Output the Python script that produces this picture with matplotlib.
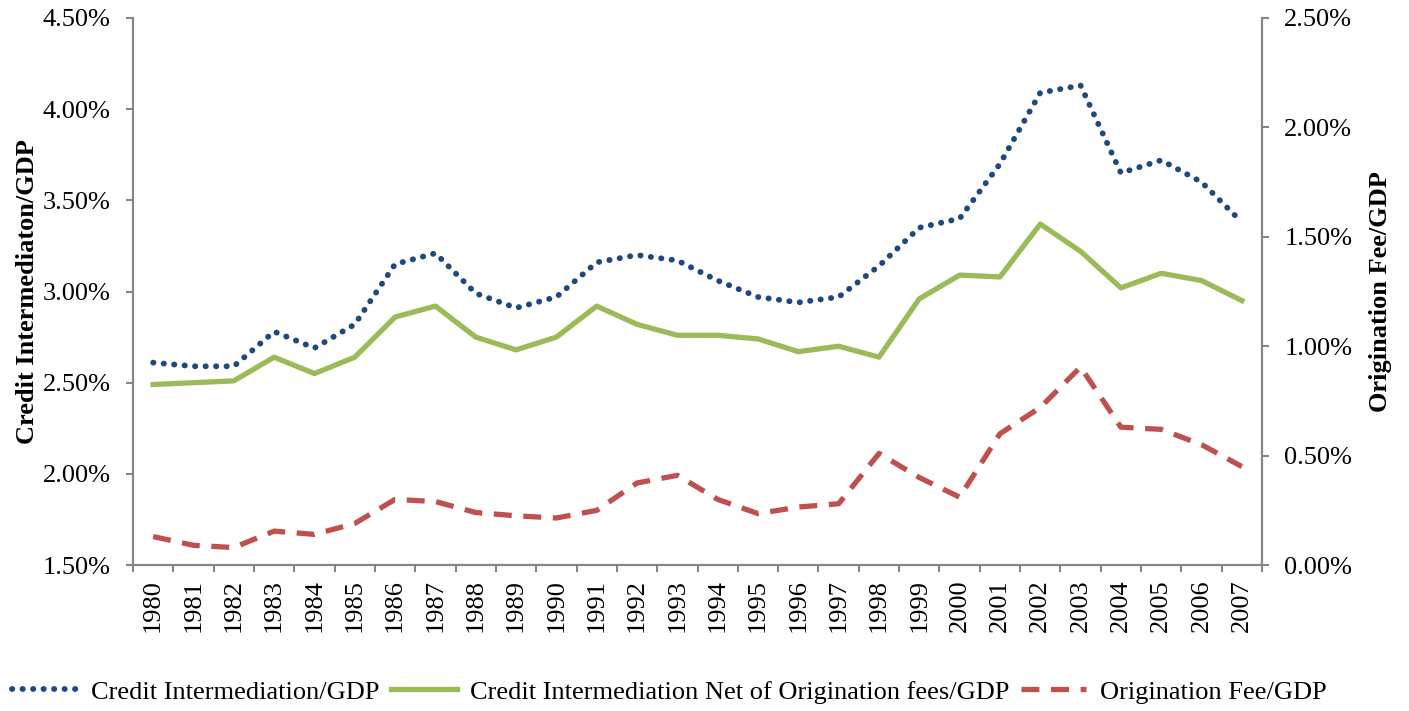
import matplotlib.pyplot as plt
from matplotlib.ticker import FuncFormatter, FixedLocator

# --- DATA ---
years = [str(y) for y in range(1980, 2008)]

credit_gdp = [2.61, 2.59, 2.59, 2.78, 2.69, 2.82, 3.15, 3.21, 2.99, 2.91,
              2.97, 3.16, 3.20, 3.17, 3.06, 2.97, 2.94, 2.97, 3.14, 3.35,
              3.40, 3.70, 4.09, 4.13, 3.65, 3.72, 3.60, 3.38]

credit_net_gdp = [2.49, 2.50, 2.51, 2.64, 2.55, 2.64, 2.86, 2.92, 2.75, 2.68,
                  2.75, 2.92, 2.82, 2.76, 2.76, 2.74, 2.67, 2.70, 2.64, 2.96,
                  3.09, 3.08, 3.37, 3.22, 3.02, 3.10, 3.06, 2.95]

orig_fee_gdp = [0.13, 0.09, 0.08, 0.155, 0.14, 0.19, 0.30, 0.29, 0.24, 0.225,
                0.215, 0.25, 0.375, 0.41, 0.30, 0.235, 0.265, 0.28, 0.51, 0.40,
                0.31, 0.60, 0.72, 0.905, 0.63, 0.62, 0.55, 0.45]

# --- PLOT ---
plt.rcParams['font.family'] = ['Liberation Serif', 'DejaVu Serif']
fig = plt.figure(figsize=(14.09, 7.11), dpi=100)
ax = fig.add_axes([0.0944, 0.2053, 0.8013, 0.7694])
ax2 = ax.twinx()

x = list(range(len(years)))
l1, = ax.plot(x, credit_gdp, color='#1F497D', lw=4.2,
              linestyle=(0, (0.05, 1.75)), dash_capstyle='round',
              label='Credit Intermediation/GDP')
l2, = ax.plot(x, credit_net_gdp, color='#9BBB59', lw=3.8,
              label='Credit Intermediation Net of Origination fees/GDP')
l3, = ax2.plot(x, orig_fee_gdp, color='#C0504D', lw=3.8,
               linestyle=(0, (3.4, 2.2)), label='Origination Fee/GDP')

ax.set_xlim(-0.5, len(years) - 0.5)
ax.set_ylim(1.5, 4.5)
ax2.set_ylim(0, 2.5)
ax.set_yticks([1.5, 2.0, 2.5, 3.0, 3.5, 4.0, 4.5])
ax2.set_yticks([0, 0.5, 1.0, 1.5, 2.0, 2.5])
pct = FuncFormatter(lambda v, p: f'{v:.2f}%')
ax.yaxis.set_major_formatter(pct)
ax2.yaxis.set_major_formatter(pct)

ax.set_xticks(x)
ax.set_xticklabels(years, rotation=90)
ax.xaxis.set_minor_locator(FixedLocator([i - 0.5 for i in range(len(years) + 1)]))
ax.tick_params(axis='x', which='major', length=0, labelsize=19, pad=10)
ax.tick_params(axis='x', which='minor', length=5, color='#868686', width=1.5)
ax.tick_params(axis='y', labelsize=19, length=5, color='#868686', width=1.5, pad=11)
ax2.tick_params(axis='y', labelsize=19, length=5, color='#868686', width=1.5, pad=11)

for a in (ax, ax2):
    a.spines['top'].set_visible(False)
    for s in ('left', 'right', 'bottom'):
        a.spines[s].set_color('#868686')
        a.spines[s].set_linewidth(1.5)

ax.set_ylabel('Credit Intermediaton/GDP', fontsize=19, fontweight='bold', labelpad=3)
ax2.set_ylabel('Origination Fee/GDP', fontsize=19, fontweight='bold', labelpad=12)

fig.legend(handles=[l1, l2, l3], loc='center', ncol=3, frameon=False,
           fontsize=19, bbox_to_anchor=(0.475, 0.027), handlelength=2.5,
           columnspacing=0.42, handletextpad=0.5)

fig.savefig('out.png', dpi=100)
